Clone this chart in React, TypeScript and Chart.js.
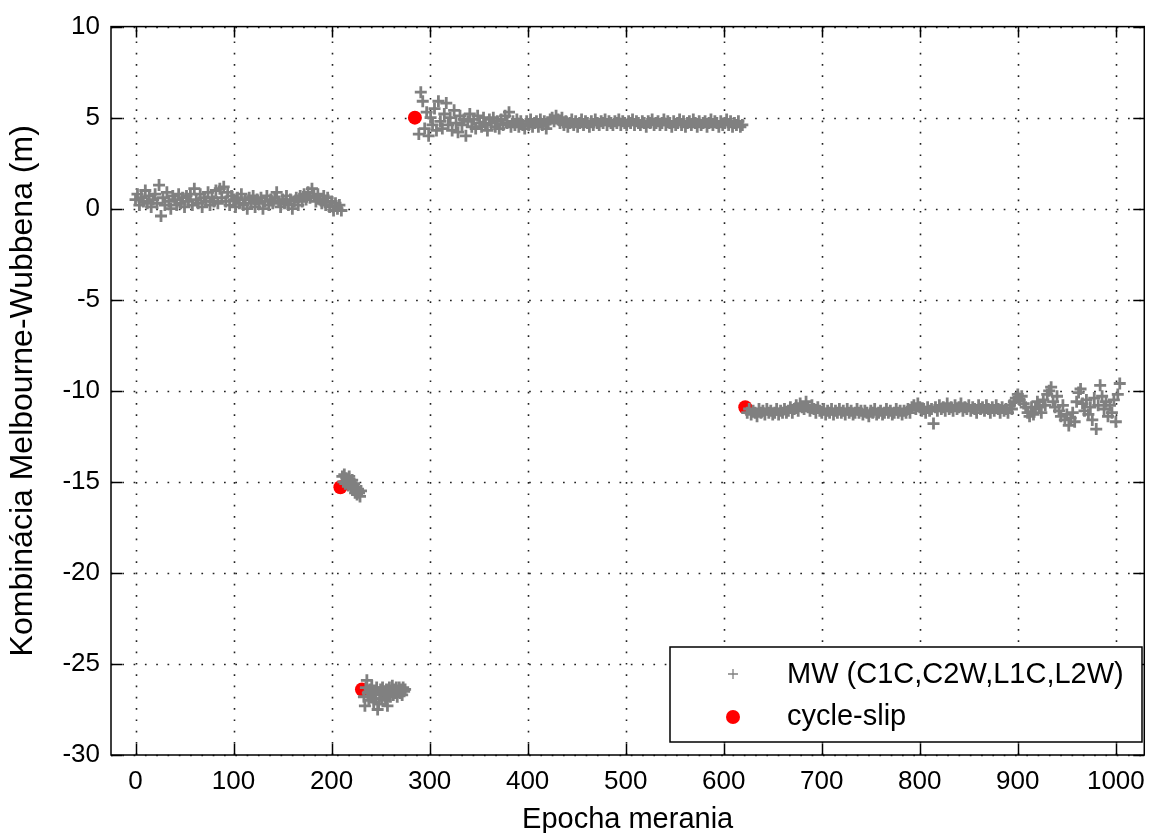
import { useEffect, useRef } from "react";
import { Chart, registerables } from "chart.js";

Chart.register(...registerables);

// ---------- data ----------
const LONG_STEP = 2; // epochs between listed samples in the long arcs
const SHORT_STEP = 1; // epochs between listed samples in the short arcs

const arc1Start = 0;
const arc1Values = [
  0.5, 0.8, 0.2, 0.6, 0.4, 1.0, 0.3, 0.7, 0.1, 0.5,
  0.8, 0.3, 1.3, -0.4, 0.6, 0.2, 0.9, 0.4, 0.0, 0.7,
  0.5, 0.2, 0.8, 0.3, 0.6, 0.1, 0.7, 0.4, 0.8, 0.2,
  1.1, 0.5, 0.3, 0.8, 0.1, 0.6, 0.4, 0.9, 0.2, 0.6,
  0.4, 1.0, 0.3, 1.1, 0.6, 1.2, 0.4, 0.9, 0.2, 0.7,
  0.5, 0.1, 0.6, 0.3, 0.8, 0.2, 0.5, 0.0, 0.6, 0.3,
  0.7, 0.1, 0.5, 0.3, 0.6, 0.0, 0.4, 0.7, 0.2, 0.5,
  0.3, 0.6, 0.9, 0.4, 0.1, 0.5, 0.3, 0.7, 0.2, 0.5,
  0.0, 0.4, 0.6, 0.2, 0.7, 0.4, 0.8, 0.5, 0.9, 0.6,
  1.1, 0.7, 0.4, 0.8, 0.5, 0.3, 0.7, 0.2, 0.6, 0.1,
  0.4, -0.1, 0.3, 0.0, 0.2, -0.1,
];

const arc2Start = 211;
const arc2Values = [
  -14.7, -15.0, -14.6, -15.1, -14.8, -14.9, -15.2, -14.7, -15.0, -15.3,
  -14.9, -15.4, -15.1, -15.6, -15.3, -15.7, -15.4, -15.6, -15.8, -15.5,
];

const arc3Start = 233;
const arc3Values = [
  -26.8, -27.3, -26.3, -25.9, -26.6, -27.0, -26.4, -26.8, -26.2, -26.7,
  -27.1, -26.5, -26.9, -26.3, -27.5, -27.2, -26.6, -26.4, -26.9, -26.3,
  -26.7, -26.5, -27.0, -26.4, -27.3, -26.6, -26.3, -26.8, -26.5, -26.2,
  -26.7, -26.4, -26.6, -26.3, -26.8, -26.5, -26.3, -26.6, -26.4, -26.7,
  -26.3, -26.5, -26.4,
];

const arc4Start = 289;
const arc4Values = [
  4.1, 6.4, 5.9, 4.4, 5.3, 4.0, 5.0, 4.6, 5.5, 4.3,
  5.9, 4.8, 4.4, 5.2, 5.8, 4.6, 5.0, 4.3, 5.4, 4.7,
  4.2, 5.1, 4.6, 4.9, 4.0, 4.8, 5.2, 4.5, 4.9, 4.4,
  5.1, 4.7, 4.5, 5.0, 4.6, 4.3, 4.9, 4.7, 5.0, 4.5,
  4.8, 4.4, 4.9, 4.6, 5.1, 4.7, 5.3, 4.5, 4.8, 4.6,
  4.9, 4.5, 4.8, 4.6, 4.4, 4.8, 4.6, 4.9, 4.5, 4.7,
  4.8, 4.5, 4.9, 4.6, 4.8, 4.4, 4.7, 4.9, 5.0, 4.8,
  5.1, 4.9, 4.7, 5.0, 4.6, 4.8, 4.5, 4.7, 4.9, 4.6,
  4.8, 4.5, 4.7, 4.9, 4.6, 4.8, 4.7, 4.5, 4.8, 4.6,
  4.9, 4.7, 4.6, 4.8, 4.7, 4.9, 4.6, 4.8, 4.7, 4.6,
  4.8, 4.7, 4.9, 4.6, 4.8, 4.7, 4.6, 4.8, 4.7, 4.9,
  4.6, 4.8, 4.7, 4.6, 4.8, 4.7, 4.5, 4.8, 4.7, 4.9,
  4.6, 4.7, 4.8, 4.6, 4.7, 4.9, 4.6, 4.8, 4.7, 4.5,
  4.8, 4.6, 4.7, 4.9, 4.6, 4.8, 4.5, 4.7, 4.8, 4.6,
  4.9, 4.7, 4.5, 4.8, 4.6, 4.7, 4.8, 4.5, 4.7, 4.9,
  4.6, 4.8, 4.7, 4.5, 4.8, 4.6, 4.7, 4.9, 4.6, 4.8,
  4.5, 4.7, 4.6, 4.8, 4.5, 4.6,
];

const arc5Start = 624;
const arc5Values = [
  -11.2, -11.0, -11.3, -11.1, -11.2, -11.4, -11.0, -11.2, -11.1, -11.3,
  -11.0, -11.2, -11.1, -11.3, -11.2, -11.0, -11.3, -11.1, -11.2, -11.0,
  -11.2, -11.1, -10.9, -11.2, -11.0, -10.8, -11.1, -10.7, -10.9, -11.0,
  -10.6, -10.9, -11.1, -10.8, -11.0, -11.2, -10.9, -11.1, -11.2, -11.0,
  -11.3, -11.1, -11.2, -11.0, -11.3, -11.1, -11.2, -11.0, -11.2, -11.1,
  -11.3, -11.0, -11.2, -11.1, -11.3, -11.2, -11.0, -11.2, -11.1, -11.3,
  -11.1, -11.2, -11.4, -11.1, -11.2, -11.0, -11.3, -11.2, -11.1, -11.3,
  -11.2, -11.0, -11.2, -11.1, -11.3, -11.2, -11.0, -11.2, -11.1, -11.3,
  -11.1, -11.2, -11.0, -11.2, -10.9, -10.8, -11.0, -10.7, -10.9, -11.1,
  -11.0, -11.2, -10.9, -11.1, -11.0, -11.8, -10.9, -11.1, -10.8, -11.0,
  -10.9, -11.1, -10.7, -11.0, -10.9, -11.1, -10.8, -11.0, -10.9, -10.7,
  -11.1, -10.9, -11.0, -10.8, -11.1, -10.9, -11.0, -11.2, -10.8, -11.0,
  -10.9, -11.1, -10.8, -11.0, -11.2, -10.9, -11.1, -10.8, -11.0, -11.2,
  -10.9, -11.1, -11.0, -11.2, -10.8, -11.0, -10.6, -10.4, -10.2, -10.5,
  -10.3, -10.7, -10.9, -11.2, -11.4, -10.9, -11.3, -11.0, -10.6, -10.9,
  -11.2, -10.5, -10.8, -10.2, -10.0, -9.8, -10.6, -10.9, -10.3, -11.1,
  -11.4, -10.8, -11.6, -11.3, -11.9, -11.5, -11.2, -11.7, -10.6, -10.1,
  -9.9, -10.7, -11.1, -10.5, -11.3, -10.9, -11.6, -10.4, -12.1, -10.8,
  -9.7, -10.3, -11.0, -10.6, -11.4, -10.8, -11.2, -10.5, -11.7, -10.2,
  -9.6,
];

const slipEpochs = [209, 231, 285, 622];
const slipValues = [-15.3, -26.4, 5.0, -10.9];

const xTickValues = [0, 100, 200, 300, 400, 500, 600, 700, 800, 900, 1000];
const yTickValues = [-30, -25, -20, -15, -10, -5, 0, 5, 10];

const seriesLabel = "MW (C1C,C2W,L1C,L2W)";
const slipLabel = "cycle-slip";
const xTitle = "Epocha merania";
const yTitle = "Kombinácia Melbourne-Wubbena (m)";

// ---------- helpers ----------
const arcs = [
  { start: arc1Start, step: LONG_STEP, values: arc1Values },
  { start: arc2Start, step: SHORT_STEP, values: arc2Values },
  { start: arc3Start, step: SHORT_STEP, values: arc3Values },
  { start: arc4Start, step: LONG_STEP, values: arc4Values },
  { start: arc5Start, step: LONG_STEP, values: arc5Values },
];
const mwPoints = arcs.flatMap((a) => a.values.map((v, i) => ({ x: a.start + i * a.step, y: v })));
const slipPoints = slipEpochs.map((e, i) => ({ x: e, y: slipValues[i] }));

const FONT = "'Liberation Sans', Arial, sans-serif";
const GRAY = "#808080";
const RED = "#ff0000";

const framePlugin = {
  id: "matlabFrame",
  beforeDatasetsDraw(chart: any) {
    const { ctx, chartArea, scales } = chart;
    const { left, right, top, bottom } = chartArea;
    const xs = scales.x;
    const ys = scales.y;
    ctx.save();
    ctx.strokeStyle = "#222222";
    ctx.lineWidth = 1.6;
    ctx.setLineDash([1.7, 9.6]);
    xs.ticks.forEach((t: any) => {
      const px = Math.round(xs.getPixelForValue(t.value)) + 0.5;
      ctx.beginPath();
      ctx.moveTo(px, bottom);
      ctx.lineTo(px, top);
      ctx.stroke();
    });
    ys.ticks.forEach((t: any) => {
      const py = Math.round(ys.getPixelForValue(t.value)) + 0.5;
      ctx.beginPath();
      ctx.moveTo(left, py);
      ctx.lineTo(right, py);
      ctx.stroke();
    });
    ctx.restore();
  },
  afterDatasetsDraw(chart: any) {
    const { ctx, chartArea, scales } = chart;
    const { left, right, top, bottom } = chartArea;
    const xs = scales.x;
    const ys = scales.y;
    const tickLen = 11;
    ctx.save();
    ctx.setLineDash([]);
    ctx.strokeStyle = "#000";
    ctx.lineWidth = 1.5;
    ctx.strokeRect(left, top, right - left, bottom - top);
    ctx.beginPath();
    xs.ticks.forEach((t: any) => {
      const px = Math.round(xs.getPixelForValue(t.value)) + 0.5;
      ctx.moveTo(px, bottom);
      ctx.lineTo(px, bottom - tickLen);
      ctx.moveTo(px, top);
      ctx.lineTo(px, top + tickLen);
    });
    ys.ticks.forEach((t: any) => {
      const py = Math.round(ys.getPixelForValue(t.value)) + 0.5;
      ctx.moveTo(left, py);
      ctx.lineTo(left + tickLen, py);
      ctx.moveTo(right, py);
      ctx.lineTo(right - tickLen, py);
    });
    ctx.stroke();

    // legend box (inside the plot, lower right)
    const ds = chart.data.datasets;
    const bx = 670, by = 647, bw = 472, bh = 95;
    ctx.fillStyle = "#fff";
    ctx.fillRect(bx, by, bw, bh);
    ctx.lineWidth = 1.5;
    ctx.strokeStyle = "#000";
    ctx.strokeRect(bx, by, bw, bh);

    const mx = 733;
    const textX = 787;
    const row1 = 674;
    const row2 = 717;
    ctx.strokeStyle = GRAY;
    ctx.lineWidth = 1.3;
    ctx.beginPath();
    ctx.moveTo(mx - 5, row1);
    ctx.lineTo(mx + 5, row1);
    ctx.moveTo(mx, row1 - 5);
    ctx.lineTo(mx, row1 + 5);
    ctx.stroke();
    ctx.fillStyle = RED;
    ctx.beginPath();
    ctx.arc(mx, row2, 7, 0, Math.PI * 2);
    ctx.fill();

    ctx.fillStyle = "#000";
    ctx.font = `29px ${FONT}`;
    ctx.textAlign = "left";
    ctx.textBaseline = "middle";
    ctx.fillText(ds[0].label, textX, row1 + 1);
    ctx.fillText(ds[1].label, textX, row2);
    ctx.restore();
  },
};

export default function App() {
  const ref = useRef<HTMLCanvasElement | null>(null);

  useEffect(() => {
    document.body.style.margin = "0";
    const canvas = ref.current;
    if (!canvas) return;
    const chart = new Chart(canvas, {
      type: "scatter",
      data: {
        datasets: [
          {
            label: seriesLabel,
            data: mwPoints,
            pointStyle: "cross",
            pointRadius: 6,
            pointBorderWidth: 2.8,
            borderColor: GRAY,
            backgroundColor: GRAY,
            showLine: false,
          },
          {
            label: slipLabel,
            data: slipPoints,
            pointStyle: "circle",
            pointRadius: 7,
            pointBorderWidth: 0,
            borderColor: RED,
            backgroundColor: RED,
            showLine: false,
          },
        ],
      },
      plugins: [framePlugin],
      options: {
        animation: false,
        responsive: false,
        devicePixelRatio: 1,
        events: [],
        layout: { padding: { left: 0, top: 23, right: 1, bottom: 0 } },
        plugins: {
          legend: { display: false },
          tooltip: { enabled: false },
        },
        scales: {
          x: {
            type: "linear",
            min: -25,
            max: 1029,
            afterBuildTicks: (s: any) => {
              s.ticks = xTickValues.map((v) => ({ value: v }));
            },
            afterFit: (s: any) => {
              s.height = 78;
            },
            grid: { display: false, drawTicks: false },
            border: { display: false },
            ticks: {
              color: "#000",
              padding: 11,
              maxRotation: 0,
              autoSkip: false,
              font: { family: FONT, size: 26 },
              callback: (v: any) => String(v),
            },
            title: {
              display: true,
              text: xTitle,
              color: "#000",
              font: { family: FONT, size: 29, lineHeight: 0.9 },
              padding: { top: 0, bottom: 0 },
            },
          },
          y: {
            type: "linear",
            min: -30,
            max: 10,
            afterBuildTicks: (s: any) => {
              s.ticks = yTickValues.map((v) => ({ value: v }));
            },
            afterFit: (s: any) => {
              s.width = 111;
            },
            grid: { display: false, drawTicks: false },
            border: { display: false },
            ticks: {
              color: "#000",
              padding: 11,
              autoSkip: false,
              font: { family: FONT, size: 26 },
              callback: (v: any) => String(v),
            },
            title: {
              display: true,
              text: yTitle,
              color: "#000",
              font: { family: FONT, size: 32, lineHeight: 1.2 },
              padding: { top: 4, bottom: 0 },
            },
          },
        },
      },
    } as any);
    return () => chart.destroy();
  }, []);

  return <canvas ref={ref} width={1156} height={833} style={{ display: "block" }} />;
}
